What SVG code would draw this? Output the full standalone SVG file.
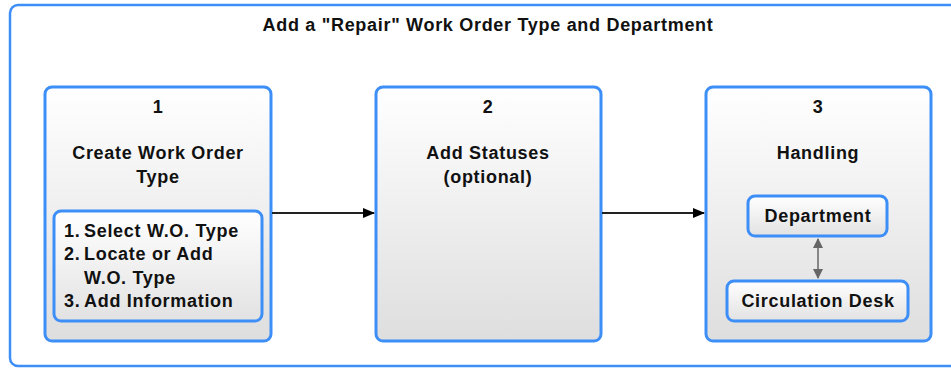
<svg xmlns="http://www.w3.org/2000/svg" width="951" height="368" viewBox="0 0 951 368">
  <defs>
    <linearGradient id="stepFill" x1="0" y1="0" x2="0" y2="1">
      <stop offset="0" stop-color="#ffffff"/>
      <stop offset="1" stop-color="#dedede"/>
    </linearGradient>
    <linearGradient id="subFill" x1="0" y1="0" x2="0" y2="1">
      <stop offset="0" stop-color="#ffffff"/>
      <stop offset="1" stop-color="#e2e2e2"/>
    </linearGradient>
    <marker id="arrowBlack" markerWidth="12" markerHeight="10" refX="11" refY="5" orient="auto" markerUnits="userSpaceOnUse">
      <path d="M0,0 L12,5 L0,10 Z" fill="#000"/>
    </marker>
    <marker id="arrowGrey" markerWidth="10" markerHeight="12" refX="9" refY="5" orient="auto" markerUnits="userSpaceOnUse">
      <path d="M0,0 L10,5 L0,10 Z" fill="#666"/>
    </marker>
    <marker id="arrowGreyStart" markerWidth="10" markerHeight="12" refX="1" refY="5" orient="auto" markerUnits="userSpaceOnUse">
      <path d="M10,0 L0,5 L10,10 Z" fill="#666"/>
    </marker>
  </defs>
  <style>
    text { font-family: "Liberation Sans", Arial, sans-serif; font-weight: bold; fill: #111; font-size: 18px; letter-spacing: 0.7px; }
    .frame { fill: #ffffff; stroke: #3d8ef7; stroke-width: 2.5; }
    .step { fill: url(#stepFill); stroke: #3d8ef7; stroke-width: 3; }
    .sub { fill: url(#subFill); stroke: #3d8ef7; stroke-width: 3; }
  </style>

  <rect width="951" height="368" fill="#ffffff"/>

  <!-- outer frame -->
  <g id="frame">
    <rect class="frame" x="10" y="5" width="960" height="361" rx="8"/>
    <text x="488" y="31" text-anchor="middle">Add a "Repair" Work Order Type and Department</text>
  </g>

  <!-- step 1 -->
  <g id="step1">
    <rect class="step" x="45" y="87" width="226" height="254" rx="7"/>
    <text x="158" y="113" text-anchor="middle">1</text>
    <text x="158" y="159" text-anchor="middle">Create Work Order</text>
    <text x="158" y="183" text-anchor="middle">Type</text>
  </g>
  <g id="step1-list">
    <rect class="sub" x="54" y="211" width="208" height="110" rx="7"/>
    <text x="64" y="237">1.</text>
    <text x="84" y="237">Select W.O. Type</text>
    <text x="64" y="260">2.</text>
    <text x="84" y="260">Locate or Add</text>
    <text x="84" y="284">W.O. Type</text>
    <text x="64" y="307">3.</text>
    <text x="84" y="307">Add Information</text>
  </g>

  <!-- step 2 -->
  <g id="step2">
    <rect class="step" x="376" y="87" width="225" height="254" rx="7"/>
    <text x="488" y="113" text-anchor="middle">2</text>
    <text x="488" y="159" text-anchor="middle">Add Statuses</text>
    <text x="488" y="183" text-anchor="middle">(optional)</text>
  </g>

  <!-- step 3 -->
  <g id="step3">
    <rect class="step" x="706" y="87" width="225" height="254" rx="7"/>
    <text x="818" y="113" text-anchor="middle">3</text>
    <text x="818" y="159" text-anchor="middle">Handling</text>
  </g>
  <g id="department">
    <rect class="sub" x="748" y="196" width="139" height="40" rx="7"/>
    <text x="818" y="222" text-anchor="middle">Department</text>
  </g>
  <g id="circulation-desk">
    <rect class="sub" x="727" y="281" width="181" height="40" rx="7"/>
    <text x="818" y="307" text-anchor="middle">Circulation Desk</text>
  </g>

  <!-- connectors -->
  <g id="connectors">
    <line x1="272" y1="213" x2="374" y2="213" stroke="#222" stroke-width="1.8" marker-end="url(#arrowBlack)"/>
    <line x1="602" y1="213" x2="704" y2="213" stroke="#222" stroke-width="1.8" marker-end="url(#arrowBlack)"/>
    <line x1="818" y1="239" x2="818" y2="278" stroke="#666" stroke-width="1.5" marker-start="url(#arrowGreyStart)" marker-end="url(#arrowGrey)"/>
  </g>
</svg>
